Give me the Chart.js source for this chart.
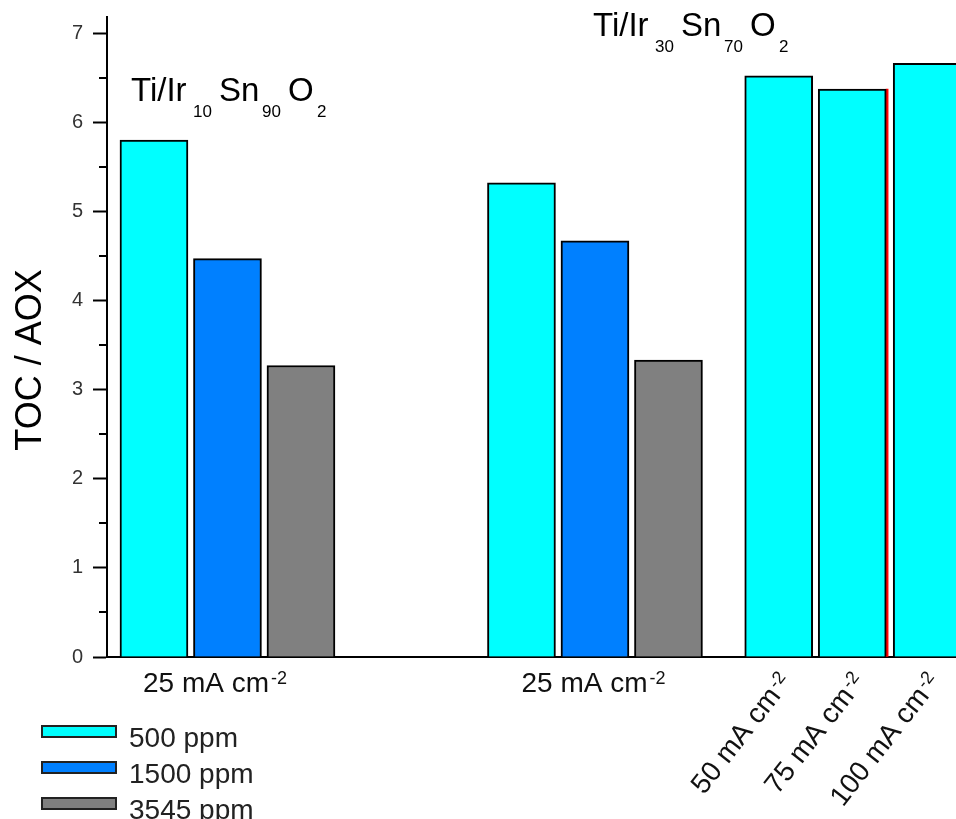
<!DOCTYPE html>
<html>
<head>
<meta charset="utf-8">
<title>TOC / AOX</title>
<script src="https://cdn.jsdelivr.net/npm/chart.js@4/dist/chart.umd.min.js"></script>
<style>
  body { margin: 0; background: #fff; }
  canvas { display: block; }
</style>
</head>
<body>
<canvas id="chart" width="956" height="819"></canvas>
<script>
// values (TOC / AOX ratio)
const seriesNames = ["500 ppm", "1500 ppm", "3545 ppm"];
const seriesColors = ["#00FFFF", "#0080FF", "#808080"];
const ir10At25 = [5.80, 4.47, 3.27];     // Ti/Ir10Sn90O2, 25 mA cm-2, per series
const ir30At25 = [5.32, 4.67, 3.33];     // Ti/Ir30Sn70O2, 25 mA cm-2, per series
const densities = ["50", "75", "100"];   // mA cm-2, 500 ppm only
const ir30At500 = [6.52, 6.37, 6.66];
const yTicks = [0, 1, 2, 3, 4, 5, 6, 7];

// layout along the x axis, in bar slots
const groupStart = [0, 5];
const densitySlots = [8.5, 9.5, 10.52];
const groupLabelSlots = [0.83, 5.98];

const pts = (slots, vals) => vals.map((v, i) => ({ x: slots[i], y: v }));

const datasets = seriesNames.map((name, s) => {
    let data = [
        { x: groupStart[0] + s, y: ir10At25[s] },
        { x: groupStart[1] + s, y: ir30At25[s] },
    ];
    if (s === 0) data = data.concat(pts(densitySlots, ir30At500));
    return {
        label: name,
        data: data,
        backgroundColor: seriesColors[s],
        borderColor: "#000",
        borderWidth: 2,
        borderSkipped: "bottom",
        barThickness: 68,
        grouped: false,
    };
});

// thin red stripe beside the 75 mA cm-2 bar
datasets.push({
    label: "",
    data: [{ x: densitySlots[1] + 0.475, y: ir30At500[1] }],
    backgroundColor: "#FF0000",
    borderWidth: 0,
    barThickness: 2,
    grouped: false,
});

function drawSup(ctx, x, y, main, sup) {
    ctx.font = "28px Arial";
    ctx.fillText(main, x, y);
    const w = ctx.measureText(main).width + 2;
    ctx.font = "18px Arial";
    ctx.fillText(sup, x + w, y - 8);
}

const decorations = {
    id: "decorations",
    afterDraw(chart) {
        const ctx = chart.ctx;
        const xs = chart.scales.x;
        const ys = chart.scales.y;
        const area = chart.chartArea;
        ctx.save();

        // minor ticks on y
        ctx.strokeStyle = "#000";
        ctx.lineWidth = 2;
        for (let v = 0.5; v < 7.1; v += 1) {
            const py = Math.round(ys.getPixelForValue(v));
            ctx.beginPath();
            ctx.moveTo(area.left - 8, py);
            ctx.lineTo(area.left, py);
            ctx.stroke();
        }

        // y title
        ctx.fillStyle = "#000";
        ctx.save();
        ctx.translate(31, 360);
        ctx.rotate(-Math.PI / 2);
        ctx.font = "36px Arial";
        ctx.textAlign = "center";
        ctx.textBaseline = "middle";
        ctx.fillText("TOC / AOX", 0, 0);
        ctx.restore();

        // x labels
        ctx.fillStyle = "#111";
        ctx.textBaseline = "alphabetic";
        ctx.textAlign = "left";
        groupLabelSlots.forEach((slot) => {
            ctx.font = "28px Arial";
            const wm = ctx.measureText("25 mA cm").width + 2;
            ctx.font = "18px Arial";
            const ws = ctx.measureText("-2").width;
            const cx = xs.getPixelForValue(slot);
            drawSup(ctx, cx - (wm + ws) / 2, area.bottom + 35, "25 mA cm", "-2");
        });
        densities.forEach((d, i) => {
            const px = xs.getPixelForValue(densitySlots[i]);
            ctx.save();
            ctx.translate(px + 14, area.bottom + 25);
            ctx.rotate(-52 * Math.PI / 180);
            const main = d + " mA cm";
            ctx.font = "28px Arial";
            const wm = ctx.measureText(main).width + 2;
            ctx.font = "18px Arial";
            const ws = ctx.measureText("-2").width;
            drawSup(ctx, -(wm + ws), 0, main, "-2");
            ctx.restore();
        });

        // electrode names
        ctx.fillStyle = "#000";
        const parts = [["Ti/Ir", 0, false], ["", 62, true], ["Sn", 88, false], ["", 131, true], ["O", 157, false], ["2", 186, true]];
        const names = [
            { x: 131, y: 101, sub: ["10", "90"] },
            { x: 593, y: 36, sub: ["30", "70"] },
        ];
        names.forEach((n) => {
            let k = 0;
            parts.forEach(([txt, off, isSub]) => {
                let t = txt;
                if (isSub && txt === "") t = n.sub[k++];
                ctx.font = isSub ? "17px Arial" : "33px Arial";
                ctx.fillText(t, n.x + off, n.y + (isSub ? 16 : 0));
            });
        });

        // legend
        chart.data.datasets.slice(0, 3).forEach((ds, i) => {
            const top = 725 + i * 36;
            ctx.fillStyle = ds.backgroundColor;
            ctx.fillRect(41, top, 76, 13);
            ctx.strokeStyle = "#222";
            ctx.lineWidth = 2;
            ctx.strokeRect(42, top + 1, 74, 11);
            ctx.fillStyle = "#222";
            ctx.font = "28px Arial";
            ctx.fillText(ds.label, 129, top + 22);
        });

        ctx.restore();
    },
};

new Chart(document.getElementById("chart"), {
    type: "bar",
    data: { datasets: datasets },
    options: {
        responsive: false,
        animation: false,
        devicePixelRatio: 1,
        layout: { padding: { top: 17, left: 0, right: 0, bottom: 0 } },
        plugins: {
            legend: { display: false },
            tooltip: { enabled: false },
        },
        scales: {
            x: {
                type: "linear",
                min: -0.639,
                max: 10.912,
                offset: false,
                ticks: { display: false },
                grid: { display: false },
                border: { display: true, color: "#000", width: 2 },
                afterFit: (s) => { s.height = 162; },
            },
            y: {
                min: 0,
                max: 7.18,
                afterBuildTicks: (s) => { s.ticks = yTicks.map((v) => ({ value: v })); },
                ticks: {
                    color: "#333",
                    font: { family: "Arial", size: 20 },
                    padding: 10,
                },
                grid: {
                    display: true,
                    drawOnChartArea: false,
                    drawTicks: true,
                    tickLength: 14,
                    tickWidth: 2,
                    tickColor: "#000",
                },
                border: { display: true, color: "#000", width: 2 },
                afterFit: (s) => {
                    s.width = 107;
                    s.paddingTop = 0;
                    s.paddingBottom = 0;
                },
            },
        },
    },
    plugins: [decorations],
});
</script>
</body>
</html>
